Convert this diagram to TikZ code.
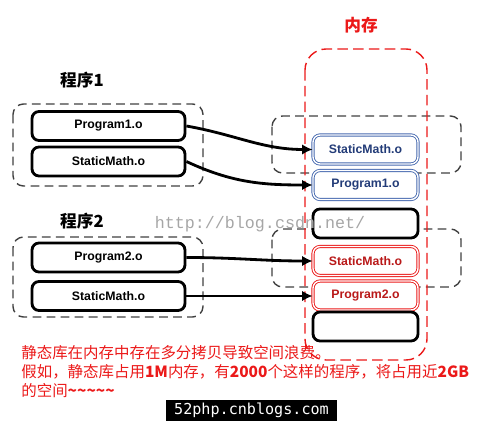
\documentclass[tikz,border=0pt]{standalone}
\usepackage{fontspec}
\setmainfont{Liberation Sans}
\newfontfamily\cjk{Noto Sans CJK SC}
\newfontfamily\wmfont{Liberation Mono}
\newfontfamily\sitefont{DejaVu Sans Mono}
\usetikzlibrary{arrows.meta}
\definecolor{memred}{RGB}{235,25,25}
\definecolor{boxblue}{RGB}{70,105,175}
\definecolor{txtblue}{RGB}{35,60,120}
\definecolor{txtred}{RGB}{185,25,25}
\begin{document}
\begin{tikzpicture}[x=0.02cm, y=-0.02cm,
  font=\bfseries\fontsize{7}{8}\selectfont,
  obj/.style={draw, line width=1.6pt, rounded corners=4pt, fill=white, minimum height=0.58cm, inner sep=0pt},
  lobj/.style={obj, minimum width=3.06cm},
  robj/.style={obj, minimum width=2.1cm},
  blueobj/.style={robj, draw=boxblue, line width=0.5pt, double=white, double distance=0.8pt, text=txtblue},
  redobj/.style={robj, draw=memred, line width=0.5pt, double=white, double distance=0.8pt, text=txtred},
  group/.style={draw=black!75, dash pattern=on 5pt off 3pt, line width=0.8pt, rounded corners=6pt},
  title/.style={font=\cjk\bfseries\fontsize{9.5}{10}\selectfont},
  arrow/.style={-{Latex[length=6pt,width=6pt]}, line width=1.6pt}
]
\useasboundingbox (0,0) rectangle (486,435);
% groups
\draw[group] (13,104) rectangle (203,186);
\draw[group] (13,237) rectangle (203,317);
\draw[group] (272,116) rectangle (461,173);
\draw[group] (272,229) rectangle (461,287);
\draw[memred, dash pattern=on 6pt off 3pt, line width=0.8pt, rounded corners=12pt] (305,49) rectangle (427,360);
% labels
\node[title, text=memred] (mem) at (361,25) {内存};
\node[title] (prog1) at (82,80) {程序1};
\node[title] (prog2) at (82,221) {程序2};
% program 1
\node[lobj] (p1)  at (108.5,126) {Program1.o};
\node[lobj] (sm1) at (108.5,161.5) {StaticMath.o};
% program 2
\node[lobj] (p2)  at (108.5,257.5) {Program2.o};
\node[lobj] (sm2) at (108.5,296) {StaticMath.o};
% memory
\node[blueobj] (rsm1) at (365.5,149.5) {StaticMath.o};
\node[blueobj] (rp1)  at (365.5,185) {Program1.o};
\node[robj]    (e1)   at (365.5,223.5) {};
\node[redobj]  (rsm2) at (365.5,261) {StaticMath.o};
\node[redobj]  (rp2)  at (365.5,295.5) {Program2.o};
\node[robj]    (e2)   at (365.5,326.5) {};
% links
\draw[arrow] (p1.east) to[out=-10, in=180] (rsm1.west);
\draw[arrow] (sm1.east) to[out=-25, in=180] (rp1.west);
\draw[arrow] (p2.east) to[out=0, in=180] (rsm2.west);
\draw[arrow] (sm2.east) -- (sm2.east -| rp2.west);
% watermark
\node[font=\wmfont\mdseries\fontsize{9.5}{10}\selectfont, text=black!35] (wm) at (260,224) {http://blog.csdn.net/};
% note
\node[anchor=north west, align=left, inner sep=0pt, text=memred,
  font=\cjk\mdseries\fontsize{8.8}{10.8}\selectfont] (note) at (21,345)
  {静态库在内存中存在多分拷贝导致空间浪费。\\
   假如，静态库占用\textbf{1M}内存，有\textbf{2000}个这样的程序，将占用近\textbf{2GB}\\
   的空间\textbf{\char`\~\char`\~\char`\~\char`\~\char`\~}};
\node[fill=black, text=white, font=\sitefont\mdseries\fontsize{8.6}{10}\selectfont,
  minimum width=3.42cm, minimum height=0.42cm, inner sep=0pt] (site) at (251.5,410.5) {52php.cnblogs.com};
\end{tikzpicture}
\end{document}
